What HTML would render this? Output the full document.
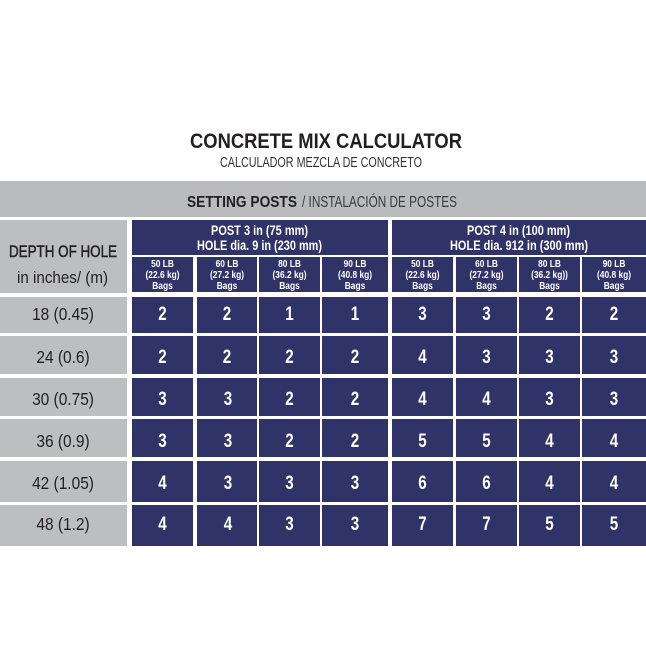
<!DOCTYPE html>
<html><head><meta charset="utf-8"><style>
html,body{margin:0;padding:0;background:#fff;}
svg{display:block;}
text{font-family:"Liberation Sans",Arial,sans-serif;}
</style></head><body>
<svg width="646" height="646" viewBox="0 0 646 646" xmlns="http://www.w3.org/2000/svg">
<rect x="0" y="0" width="646" height="646" fill="#ffffff"/>
<!-- Titles -->
<text x="190" y="148" font-size="21" font-weight="bold" fill="#231f20" textLength="272" lengthAdjust="spacingAndGlyphs">CONCRETE MIX CALCULATOR</text>
<text x="220" y="167" font-size="15" fill="#333333" textLength="202" lengthAdjust="spacingAndGlyphs">CALCULADOR MEZCLA DE CONCRETO</text>
<!-- Band -->
<rect x="0" y="181" width="646" height="36" fill="#b9bbbd"/>
<text x="187" y="207" font-size="16" font-weight="bold" fill="#231f20" textLength="110" lengthAdjust="spacingAndGlyphs">SETTING POSTS</text>
<text x="302" y="207" font-size="16" fill="#3a3a3a" textLength="155" lengthAdjust="spacingAndGlyphs">/ INSTALACIÓN DE POSTES</text>
<!-- Left header cell -->
<rect x="0" y="220" width="127" height="73" fill="#bcbec0"/>
<text x="9" y="257" font-size="17" fill="#231f20" stroke="#231f20" stroke-width="0.5" textLength="108" lengthAdjust="spacingAndGlyphs">DEPTH OF HOLE</text>
<text x="17" y="283" font-size="17" fill="#231f20" textLength="91" lengthAdjust="spacingAndGlyphs">in inches/ (m)</text>
<!-- Group headers -->
<rect x="132" y="220" width="256" height="35" fill="#2f3368"/>
<rect x="392" y="220" width="254" height="35" fill="#2f3368"/>
<g fill="#ffffff" font-weight="bold" font-size="14">
<text x="211" y="235" textLength="97" lengthAdjust="spacingAndGlyphs">POST 3 in (75 mm)</text>
<text x="197" y="250" textLength="125" lengthAdjust="spacingAndGlyphs">HOLE dia. 9 in (230 mm)</text>
<text x="467" y="235" textLength="103" lengthAdjust="spacingAndGlyphs">POST 4 in (100 mm)</text>
<text x="450" y="250" textLength="138" lengthAdjust="spacingAndGlyphs">HOLE dia. 912 in (300 mm)</text>
</g>
<!-- Subheader cells -->
<g fill="#2f3368">
<rect x="132" y="257" width="61" height="35"/>
<rect x="197" y="257" width="60" height="35"/>
<rect x="259" y="257" width="61" height="35"/>
<rect x="322" y="257" width="66" height="35"/>
<rect x="392" y="257" width="61" height="35"/>
<rect x="456" y="257" width="61" height="35"/>
<rect x="519" y="257" width="61" height="35"/>
<rect x="582" y="257" width="64" height="35"/>
</g>
<g fill="#ffffff" font-weight="bold" font-size="10.5" text-anchor="middle">
<g transform="translate(162.5,0) scale(0.8,1)"><text x="0" y="267">50 LB</text><text x="0" y="278">(22.6 kg)</text><text x="0" y="289">Bags</text></g>
<g transform="translate(227,0) scale(0.8,1)"><text x="0" y="267">60 LB</text><text x="0" y="278">(27.2 kg)</text><text x="0" y="289">Bags</text></g>
<g transform="translate(289.5,0) scale(0.8,1)"><text x="0" y="267">80 LB</text><text x="0" y="278">(36.2 kg)</text><text x="0" y="289">Bags</text></g>
<g transform="translate(355,0) scale(0.8,1)"><text x="0" y="267">90 LB</text><text x="0" y="278">(40.8 kg)</text><text x="0" y="289">Bags</text></g>
<g transform="translate(422.5,0) scale(0.8,1)"><text x="0" y="267">50 LB</text><text x="0" y="278">(22.6 kg)</text><text x="0" y="289">Bags</text></g>
<g transform="translate(486.5,0) scale(0.8,1)"><text x="0" y="267">60 LB</text><text x="0" y="278">(27.2 kg)</text><text x="0" y="289">Bags</text></g>
<g transform="translate(549.5,0) scale(0.8,1)"><text x="0" y="267">80 LB</text><text x="0" y="278">(36.2 kg))</text><text x="0" y="289">Bags</text></g>
<g transform="translate(614,0) scale(0.8,1)"><text x="0" y="267">90 LB</text><text x="0" y="278">(40.8 kg)</text><text x="0" y="289">Bags</text></g>
</g>
<!-- Row cells -->
<g fill="#bcbec0">
<rect x="0" y="297" width="127" height="36"/>
<rect x="0" y="336" width="127" height="38"/>
<rect x="0" y="378" width="127" height="38"/>
<rect x="0" y="419" width="127" height="38"/>
<rect x="0" y="461" width="127" height="41"/>
<rect x="0" y="505" width="127" height="41"/>
</g>
<g fill="#2f3368">
<rect x="132" y="297" width="61" height="36"/><rect x="197" y="297" width="60" height="36"/><rect x="259" y="297" width="61" height="36"/><rect x="322" y="297" width="66" height="36"/>
<rect x="392" y="297" width="61" height="36"/><rect x="456" y="297" width="61" height="36"/><rect x="519" y="297" width="61" height="36"/><rect x="582" y="297" width="64" height="36"/>
<rect x="132" y="336" width="61" height="38"/><rect x="197" y="336" width="60" height="38"/><rect x="259" y="336" width="61" height="38"/><rect x="322" y="336" width="66" height="38"/>
<rect x="392" y="336" width="61" height="38"/><rect x="456" y="336" width="61" height="38"/><rect x="519" y="336" width="61" height="38"/><rect x="582" y="336" width="64" height="38"/>
<rect x="132" y="378" width="61" height="38"/><rect x="197" y="378" width="60" height="38"/><rect x="259" y="378" width="61" height="38"/><rect x="322" y="378" width="66" height="38"/>
<rect x="392" y="378" width="61" height="38"/><rect x="456" y="378" width="61" height="38"/><rect x="519" y="378" width="61" height="38"/><rect x="582" y="378" width="64" height="38"/>
<rect x="132" y="419" width="61" height="38"/><rect x="197" y="419" width="60" height="38"/><rect x="259" y="419" width="61" height="38"/><rect x="322" y="419" width="66" height="38"/>
<rect x="392" y="419" width="61" height="38"/><rect x="456" y="419" width="61" height="38"/><rect x="519" y="419" width="61" height="38"/><rect x="582" y="419" width="64" height="38"/>
<rect x="132" y="461" width="61" height="41"/><rect x="197" y="461" width="60" height="41"/><rect x="259" y="461" width="61" height="41"/><rect x="322" y="461" width="66" height="41"/>
<rect x="392" y="461" width="61" height="41"/><rect x="456" y="461" width="61" height="41"/><rect x="519" y="461" width="61" height="41"/><rect x="582" y="461" width="64" height="41"/>
<rect x="132" y="505" width="61" height="41"/><rect x="197" y="505" width="60" height="41"/><rect x="259" y="505" width="61" height="41"/><rect x="322" y="505" width="66" height="41"/>
<rect x="392" y="505" width="61" height="41"/><rect x="456" y="505" width="61" height="41"/><rect x="519" y="505" width="61" height="41"/><rect x="582" y="505" width="64" height="41"/>
</g>
<!-- Row labels -->
<g fill="#231f20" font-size="18" text-anchor="middle">
<text transform="translate(63,320) scale(0.86,1)">18 (0.45)</text>
<text transform="translate(63,363) scale(0.86,1)">24 (0.6)</text>
<text transform="translate(63,405) scale(0.86,1)">30 (0.75)</text>
<text transform="translate(63,447) scale(0.86,1)">36 (0.9)</text>
<text transform="translate(63,489) scale(0.86,1)">42 (1.05)</text>
<text transform="translate(63,530) scale(0.86,1)">48 (1.2)</text>
</g>
<!-- Numbers -->
<g fill="#ffffff" font-size="19" font-weight="bold" text-anchor="middle">
<text transform="translate(162.5,320) scale(0.8,1)">2</text><text transform="translate(227,320) scale(0.8,1)">2</text><text transform="translate(289.5,320) scale(0.8,1)">1</text><text transform="translate(355,320) scale(0.8,1)">1</text>
<text transform="translate(422.5,320) scale(0.8,1)">3</text><text transform="translate(486.5,320) scale(0.8,1)">3</text><text transform="translate(549.5,320) scale(0.8,1)">2</text><text transform="translate(614,320) scale(0.8,1)">2</text>

<text transform="translate(162.5,363) scale(0.8,1)">2</text><text transform="translate(227,363) scale(0.8,1)">2</text><text transform="translate(289.5,363) scale(0.8,1)">2</text><text transform="translate(355,363) scale(0.8,1)">2</text>
<text transform="translate(422.5,363) scale(0.8,1)">4</text><text transform="translate(486.5,363) scale(0.8,1)">3</text><text transform="translate(549.5,363) scale(0.8,1)">3</text><text transform="translate(614,363) scale(0.8,1)">3</text>

<text transform="translate(162.5,405) scale(0.8,1)">3</text><text transform="translate(228,405) scale(0.8,1)">3</text><text transform="translate(289.5,405) scale(0.8,1)">2</text><text transform="translate(355,405) scale(0.8,1)">2</text>
<text transform="translate(422.5,405) scale(0.8,1)">4</text><text transform="translate(486.5,405) scale(0.8,1)">4</text><text transform="translate(549.5,405) scale(0.8,1)">3</text><text transform="translate(614,405) scale(0.8,1)">3</text>

<text transform="translate(162.5,447) scale(0.8,1)">3</text><text transform="translate(228,447) scale(0.8,1)">3</text><text transform="translate(289.5,447) scale(0.8,1)">2</text><text transform="translate(355,447) scale(0.8,1)">2</text>
<text transform="translate(422.5,447) scale(0.8,1)">5</text><text transform="translate(486.5,447) scale(0.8,1)">5</text><text transform="translate(549.5,447) scale(0.8,1)">4</text><text transform="translate(614,447) scale(0.8,1)">4</text>

<text transform="translate(162.5,489) scale(0.8,1)">4</text><text transform="translate(228,489) scale(0.8,1)">3</text><text transform="translate(289.5,489) scale(0.8,1)">3</text><text transform="translate(355,489) scale(0.8,1)">3</text>
<text transform="translate(422.5,489) scale(0.8,1)">6</text><text transform="translate(486.5,489) scale(0.8,1)">6</text><text transform="translate(549.5,489) scale(0.8,1)">4</text><text transform="translate(614,489) scale(0.8,1)">4</text>

<text transform="translate(162.5,530) scale(0.8,1)">4</text><text transform="translate(228,530) scale(0.8,1)">4</text><text transform="translate(289.5,530) scale(0.8,1)">3</text><text transform="translate(355,530) scale(0.8,1)">3</text>
<text transform="translate(422.5,530) scale(0.8,1)">7</text><text transform="translate(486.5,530) scale(0.8,1)">7</text><text transform="translate(549.5,530) scale(0.8,1)">5</text><text transform="translate(614,530) scale(0.8,1)">5</text>
</g>
</svg>
</body></html>
